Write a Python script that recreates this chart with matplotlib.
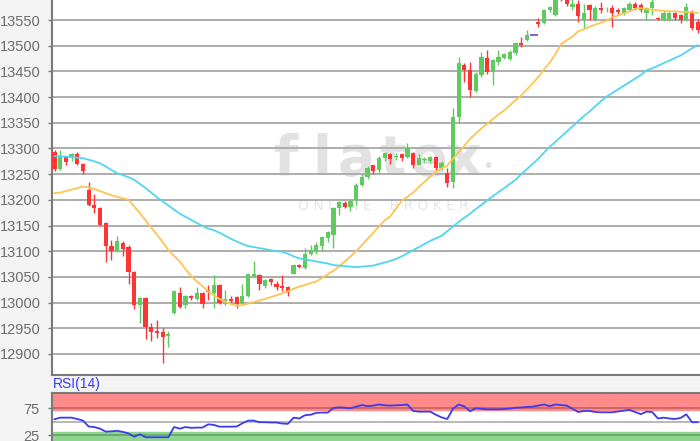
import matplotlib
matplotlib.use("Agg")
import matplotlib.pyplot as plt
import numpy as np

# ---------------- data ----------------
opens = [13294, 13260, 13283, 13283, 13289, 13270, 13219, 13190, 13185, 13155,
         13110, 13101, 13116, 13109, 13060, 12995, 13009, 12953, 12945, 12943,
         12935, 12980, 13019, 12995, 13012, 13007, 13019, 13025, 13019, 13034,
         13002, 13007, 13011, 13000, 13012, 13052, 13054, 13032, 13046, 13036,
         13032, 13031, 13056, 13073, 13067, 13095, 13099, 13110, 13126, 13132,
         13184, 13194, 13186, 13200, 13229, 13244, 13267, 13258, 13281, 13289,
         13283, 13289, 13283, 13291, 13268, 13277, 13276, 13283, 13262, 13253,
         13235, 13362, 13462, 13453, 13412, 13443, 13477, 13449, 13469, 13477,
         13475, 13485, 13506, 13511, 13521, 13547, 13545, 13569, 13560, 13605,
         13589, 13576, 13582, 13550, 13580, 13550, 13573, 13569, 13573, 13570,
         13563, 13570, 13582, 13580, 13563, 13573, 13553, 13550, 13550, 13563,
         13560, 13550, 13566, 13547]
highs = [13297, 13297, 13285, 13291, 13294, 13271, 13235, 13211, 13187, 13157,
         13122, 13130, 13120, 13112, 13062, 13010, 13011, 12960, 12966, 12951,
         12945, 13025, 13030, 13014, 13015, 13030, 13020, 13034, 13054, 13036,
         13025, 13012, 13012, 13036, 13058, 13080, 13056, 13046, 13048, 13042,
         13054, 13032, 13075, 13075, 13106, 13112, 13118, 13130, 13140, 13186,
         13198, 13197, 13200, 13232, 13250, 13266, 13268, 13285, 13294, 13291,
         13292, 13290, 13311, 13293, 13290, 13283, 13285, 13285, 13276, 13262,
         13378, 13479, 13466, 13469, 13448, 13488, 13492, 13475, 13492, 13486,
         13492, 13507, 13516, 13531, 13521, 13553, 13571, 13578, 13610, 13612,
         13600, 13600, 13589, 13582, 13582, 13577, 13586, 13576, 13580, 13573,
         13576, 13585, 13585, 13584, 13576, 13590, 13556, 13570, 13567, 13566,
         13562, 13583, 13570, 13552]
lows = [13257, 13258, 13268, 13275, 13268, 13250, 13188, 13174, 13150, 13078,
        13083, 13099, 13091, 13036, 12988, 12960, 12929, 12925, 12931, 12883,
        12914, 12978, 12989, 12989, 13005, 13005, 12990, 13005, 12990, 12998,
        12995, 13000, 12990, 12998, 13010, 13050, 13025, 13028, 13034, 13024,
        13022, 13012, 13055, 13067, 13065, 13092, 13095, 13100, 13118, 13106,
        13170, 13184, 13178, 13190, 13226, 13240, 13250, 13253, 13275, 13270,
        13278, 13275, 13281, 13262, 13270, 13274, 13272, 13258, 13258, 13225,
        13223, 13349, 13430, 13400, 13410, 13440, 13445, 13424, 13462, 13474,
        13473, 13482, 13497, 13509, 13521, 13537, 13543, 13566, 13558, 13588,
        13578, 13570, 13547, 13534, 13550, 13548, 13563, 13565, 13537, 13560,
        13560, 13568, 13570, 13565, 13550, 13560, 13550, 13548, 13548, 13550,
        13544, 13548, 13530, 13524]
closes = [13260, 13284, 13274, 13289, 13270, 13256, 13190, 13185, 13151, 13110,
          13101, 13119, 13104, 13060, 12995, 13009, 12953, 12943, 12941, 12933,
          12938, 13023, 12991, 13012, 13008, 13019, 12997, 13020, 13034, 12999,
          13006, 13004, 12997, 13012, 13056, 13055, 13036, 13044, 13040, 13031,
          13028, 13023, 13073, 13069, 13095, 13102, 13112, 13128, 13138, 13184,
          13196, 13186, 13198, 13229, 13244, 13262, 13256, 13282, 13291, 13280,
          13286, 13281, 13301, 13268, 13282, 13280, 13283, 13262, 13272, 13233,
          13362, 13466, 13453, 13414, 13445, 13479, 13449, 13472, 13479, 13483,
          13488, 13505, 13501, 13521, 13521, 13542, 13569, 13576, 13600, 13592,
          13582, 13582, 13557, 13563, 13570, 13573, 13570, 13570, 13563, 13566,
          13573, 13582, 13573, 13570, 13573, 13586, 13552, 13563, 13563, 13553,
          13550, 13576, 13534, 13531]

ma_short = [13213, 13214, 13217, 13220, 13223, 13226, 13224, 13221, 13217, 13213,
            13209, 13206, 13203, 13200, 13187, 13174, 13160, 13146, 13132, 13118,
            13102, 13091, 13080, 13065, 13052, 13041, 13032, 13022, 13014, 13007,
            13002, 12997, 12994, 12995, 12998, 13001, 13004, 13007, 13011, 13014,
            13018, 13022, 13027, 13031, 13034, 13038, 13041, 13048, 13055, 13062,
            13070, 13080, 13090, 13100, 13112, 13124, 13136, 13148, 13160, 13168,
            13183, 13198, 13206, 13214, 13225, 13235, 13245, 13255, 13261, 13267,
            13280, 13293, 13305, 13319, 13329, 13339, 13348, 13357, 13366, 13374,
            13384, 13394, 13403, 13415, 13427, 13439, 13454, 13467, 13484, 13503,
            13511, 13518, 13528, 13532, 13537, 13541, 13545, 13549, 13555, 13559,
            13563, 13567, 13572, 13573, 13571, 13570, 13569, 13568, 13567, 13567,
            13566, 13566, 13565, 13564]
ma_long = [13285, 13285, 13284, 13283, 13282, 13281, 13278, 13275, 13271, 13265,
           13258, 13252, 13248, 13244, 13239, 13231, 13223, 13214, 13205, 13197,
           13189, 13181, 13173, 13167, 13161, 13155, 13149, 13144, 13141, 13136,
           13130, 13124, 13119, 13114, 13110, 13108, 13106, 13104, 13102, 13100,
           13099, 13095, 13090, 13086, 13084, 13082, 13080, 13078, 13076, 13073,
           13072, 13071, 13070, 13069, 13070, 13071, 13072, 13075, 13078, 13081,
           13085, 13090, 13096, 13102, 13108, 13114, 13120, 13125, 13130, 13139,
           13148, 13157, 13165, 13173, 13182, 13190, 13199, 13207, 13215, 13223,
           13231, 13239, 13250, 13260, 13270, 13280, 13292, 13303, 13313, 13323,
           13333, 13343, 13353, 13363, 13372, 13382, 13392, 13401, 13408, 13415,
           13422, 13429, 13436, 13443, 13452, 13456, 13461, 13466, 13471, 13476,
           13481, 13488, 13495, 13501]
rsi = [54.5, 57.5, 57.5, 57.5, 55, 52, 41, 40, 37, 31.5,
       32, 33, 31, 28, 22, 26.5, 21, 21, 21, 21,
       21, 40, 37, 40, 38.5, 39, 39, 45, 44, 40.7,
       40.7, 40.7, 41, 47, 52, 52, 49, 49, 48.5, 48.5,
       46.5, 46, 57.5, 56, 62, 63, 66.5, 67, 67, 75.5,
       76.7, 76, 75, 78, 81, 79, 80, 82, 80.5, 80,
       80.5, 81, 82, 70, 68.7, 68.7, 68.7, 63, 58, 55,
       74, 82, 78.5, 69.4, 75, 74, 73, 73, 73, 73.5,
       74.5, 76, 76.5, 77.5, 78, 80, 82, 79, 82, 81,
       80, 74, 68, 70, 70, 68, 67.5, 67.5, 67.5, 69,
       70.5, 72, 68, 64, 68.7, 68, 56, 57.5, 56, 55,
       57, 63.6, 49, 49]

price_ticks = [12900, 12950, 13000, 13050, 13100, 13150, 13200, 13250,
               13300, 13350, 13400, 13450, 13500, 13550]
rsi_ticks = [25, 75]

# ---------------- style ----------------
W, H = 700, 441
FONT = "Liberation Sans"
plt.rcParams["font.family"] = [FONT, "DejaVu Sans"]
GREEN = "#5fcb5f"
RED = "#ff3535"
BG = "#f3f3f3"
GRID = "#adadad"
SPINE = "#7a7a7a"
LABEL = "#6e6e6e"
WM = "#e2e2e2"

fig = plt.figure(figsize=(W / 100, H / 100), dpi=100, facecolor=BG)

left = 52 / W
width = 1 - left
ax = fig.add_axes([left, 66 / H, width, 375 / H])
ax.set_facecolor("white")

# watermark (behind the data, inside the plot area)
letters = ["f", "l", "a", "t", "e", "x"]
lx = [286, 322, 356, 392, 428, 463]
for ch, px in zip(letters, lx):
    ax.text(px / W * 0 + (px - 52) / (W - 52), 1 - 160 / 375, ch,
            transform=ax.transAxes, fontsize=40, fontweight="bold",
            color=WM, ha="center", va="center", family="DejaVu Sans", zorder=0.5)
ax.text((488 - 52) / (W - 52), 1 - 167 / 375, "•", transform=ax.transAxes,
        fontsize=14, color=WM, ha="center", va="center", family="DejaVu Sans",
        zorder=0.5)
ax.text((383 - 52) / (W - 52), 1 - 206 / 375, "O N L I N E    B R O K E R",
        transform=ax.transAxes, fontsize=10, color="#e6e6e6", ha="center",
        va="center", family="DejaVu Sans", zorder=0.5)

n = len(opens)
x = np.arange(n)
o = np.array(opens, float)
c = np.array(closes, float)
hi = np.array(highs, float)
lo = np.array(lows, float)
up = c > o
eq = c == o

cols = np.where(up, GREEN, RED)
ax.vlines(x[~eq], lo[~eq], hi[~eq], colors=cols[~eq], linewidth=1.0, zorder=3)
body_bottom = np.minimum(o, c)
body_h = np.abs(c - o)
ax.bar(x[~eq], body_h[~eq], bottom=body_bottom[~eq], width=0.74,
       color=cols[~eq], linewidth=0, zorder=4)
ax.hlines(c[eq], x[eq] - 0.4, x[eq] + 0.9, colors="#5a4fd0", linewidth=1.2, zorder=4)

ax.plot(x, ma_short, color="#ffc451", linewidth=1.3, zorder=5)
ax.plot(x, ma_long, color="#4fd6f2", linewidth=1.3, zorder=5)

ax.set_xlim(-0.44, 113.4)
ax.set_ylim(12859, 13589)
ax.set_yticks(price_ticks)
ax.set_yticklabels([str(t) for t in price_ticks])
ax.set_xticks([])
ax.grid(axis="y", color=GRID, linewidth=1.4, zorder=1)
ax.set_axisbelow(True)
ax.tick_params(axis="y", length=3, width=1, color=SPINE, pad=5,
               labelsize=10.5, labelcolor=LABEL)
for s in ["top", "right"]:
    ax.spines[s].set_visible(False)
for s in ["left", "bottom"]:
    ax.spines[s].set_color(SPINE)
    ax.spines[s].set_linewidth(1.5)

# RSI panel
rax = fig.add_axes([left, 0, width, 48.3 / H])
rax.set_facecolor("white")
rax.axhspan(71, 104, color="#ff8a8a", zorder=0)
rax.axhspan(0, 31, color="#8fd48f", zorder=0)
for lvl, col in [(25, "#60a860"), (50, GRID), (75, "#c06060")]:
    rax.axhline(lvl, color=col, linewidth=1.2, zorder=1)
rax.plot(x, rsi, color="#3b3bf0", linewidth=1.3, zorder=3)
rax.set_xlim(-0.44, 113.4)
rax.set_ylim(14, 104)
rax.set_yticks(rsi_ticks)
rax.set_yticklabels([str(t) for t in rsi_ticks])
rax.set_xticks([])
rax.tick_params(axis="y", length=3, width=1, color=SPINE, pad=6,
                labelsize=10.5, labelcolor=LABEL)
for s in ["right", "bottom"]:
    rax.spines[s].set_visible(False)
for s in ["top", "left"]:
    rax.spines[s].set_color(SPINE)
    rax.spines[s].set_linewidth(1.5)

fig.text(53 / W, 1 - 384 / H, "RSI(14)", fontsize=10, color="#3b3bf0",
         ha="left", va="center")

fig.savefig("out.png", dpi=100, facecolor=BG)
